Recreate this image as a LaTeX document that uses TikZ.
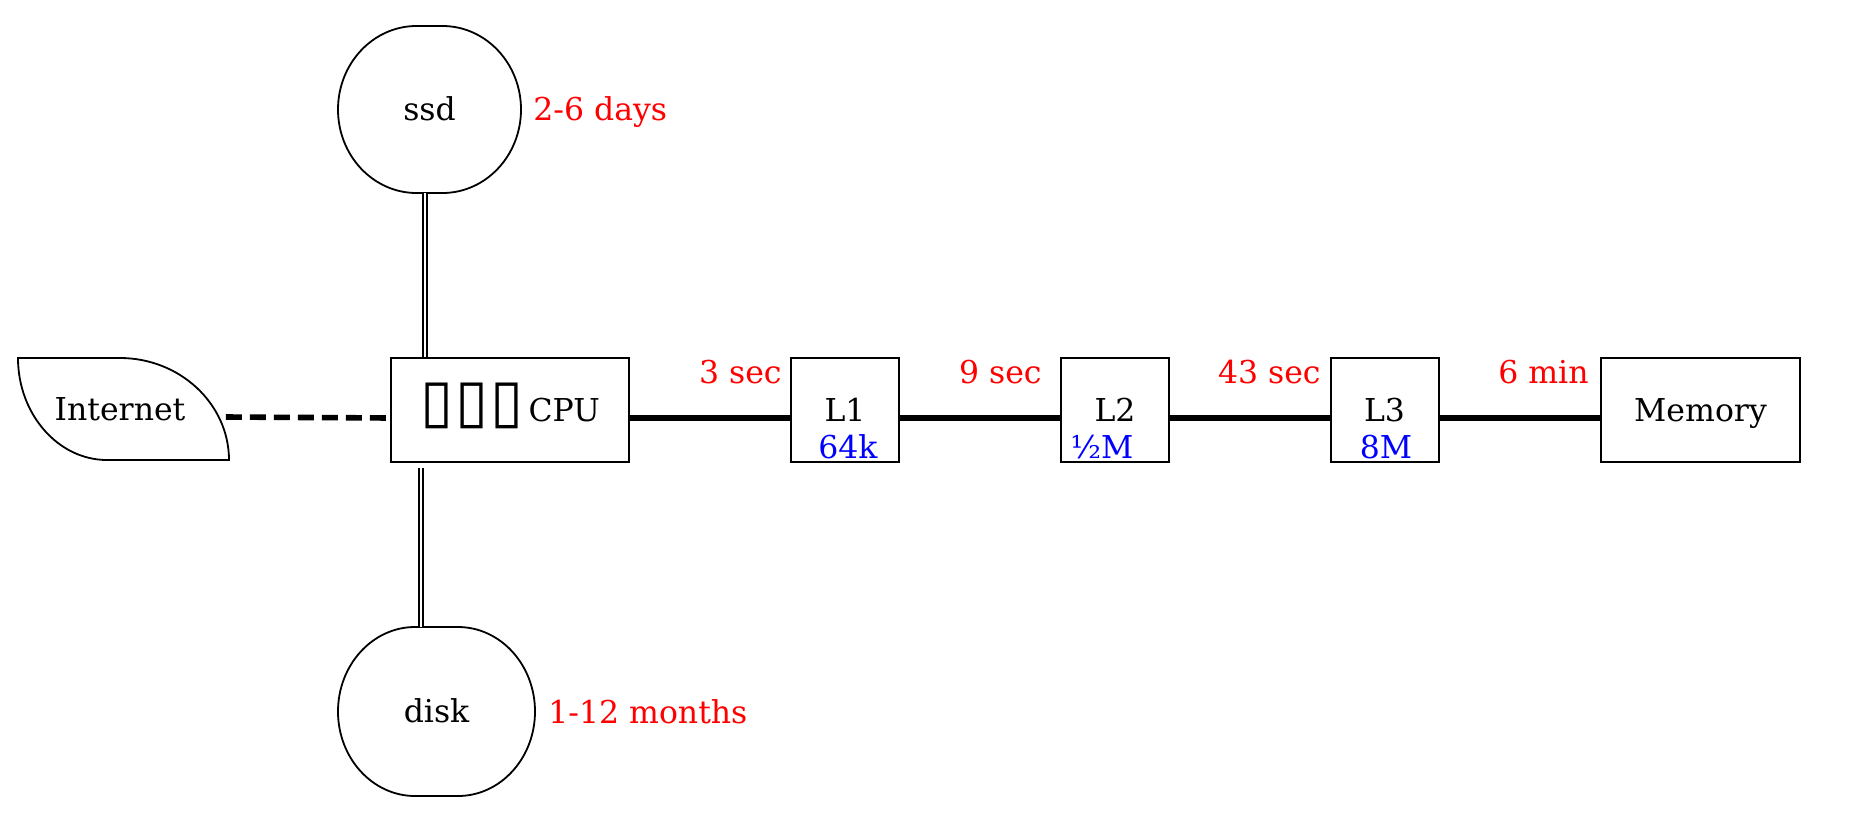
\documentclass[tikz,border=0pt]{standalone}
\usepackage{fontspec}
\setmainfont{DejaVu Serif}
\newfontfamily\dvs{DejaVu Sans}
\begin{document}
\begin{tikzpicture}[x=0.5pt,y=-0.5pt,
  every node/.style={font=\fontsize{15.75}{19}\selectfont},
  box/.style={draw, line width=1pt, minimum height=52pt, inner sep=0pt, text height=11pt, text depth=0pt},
  roundbox/.style={inner sep=0pt, text height=11pt, text depth=0pt},
  outline/.style={line width=0.9pt},
  lab/.style={text=red, inner sep=0pt},
  sub/.style={text=blue, inner sep=0pt, anchor=base},
  edge/.style={line width=2.8pt},
  dbl/.style={double, line width=0.65pt, double distance=1.3pt}]
\useasboundingbox (0,0) rectangle (1850,819);
% nodes
\node[minimum width=105.5pt, minimum height=51pt, inner sep=0pt, text height=11pt, text depth=0pt] (inet) at (120,409) {Internet};
\draw[outline] (18,358) -- (120,358) .. controls (180,358) and (229,404) .. (229,460)
  -- (107,460) .. controls (58,460) and (18,414) .. cycle;
\node[box, minimum width=119pt] (cpu) at (510,410) {{\dvs\fontsize{30}{30}\selectfont ▯\kern1pt▯\kern1pt▯}\,CPU};
\node[box, minimum width=54pt] (l1) at (845,410) {L1};
\node[box, minimum width=54pt] (l2) at (1115,410) {L2};
\node[box, minimum width=54pt] (l3) at (1384.5,410) {L3};
\node[box, minimum width=99.5pt] (mem) at (1700.5,410) {Memory};
\node[sub] (l1s) at (848,458) {64k};
\node[sub] (l2s) at (1102,458) {½M};
\node[sub] (l3s) at (1386,458) {8M};
\node[roundbox, minimum width=91.5pt, minimum height=83.5pt] (ssd) at (429.5,109.5) {ssd};
\draw[outline] (416.5,26) -- (442.5,26) .. controls (485.8,26) and (521,63.4) .. (521,109.5)
  .. controls (521,155.6) and (485.8,193) .. (442.5,193) -- (416.5,193)
  .. controls (373.2,193) and (338,155.6) .. (338,109.5)
  .. controls (338,63.4) and (373.2,26) .. cycle;
\node[roundbox, minimum width=98.5pt, minimum height=84.5pt] (disk) at (436.5,711.5) {disk};
\draw[outline] (415,627) -- (458,627) .. controls (500.5,627) and (535,664.9) .. (535,711.5)
  .. controls (535,758.1) and (500.5,796) .. (458,796) -- (415,796)
  .. controls (372.5,796) and (338,758.1) .. (338,711.5)
  .. controls (338,664.9) and (372.5,627) .. cycle;
\node[lab, anchor=base west] (ssdl) at (533,120) {2-6 days};
\node[lab, anchor=base west] (diskl) at (548,723) {1-12 months};
\node[lab, anchor=base east] (t1) at (782,383) {3 sec};
\node[lab, anchor=base east] (t2) at (1042,383) {9 sec};
\node[lab, anchor=base east] (t3) at (1321,383) {43 sec};
\node[lab, anchor=base east] (t4) at (1589,383) {6 min};
% edges
\draw[edge, dash pattern=on 8pt off 4pt] ([yshift=-4pt]inet.east) -- ([yshift=-4pt]cpu.west);
\draw[edge] ([yshift=-4pt]cpu.east) -- ([yshift=-4pt]l1.west);
\draw[edge] ([yshift=-4pt]l1.east) -- ([yshift=-4pt]l2.west);
\draw[edge] ([yshift=-4pt]l2.east) -- ([yshift=-4pt]l3.west);
\draw[edge] ([yshift=-4pt]l3.east) -- ([yshift=-4pt]mem.west);
\coordinate (xa) at (425,0);
\coordinate (xb) at (421,0);
\coordinate (cpub) at ([yshift=-2.5pt]cpu.south);
\draw[dbl] (ssd.south -| xa) -- (cpu.north -| xa);
\draw[dbl] (cpub -| xb) -- (disk.north -| xb);
\end{tikzpicture}
\end{document}
